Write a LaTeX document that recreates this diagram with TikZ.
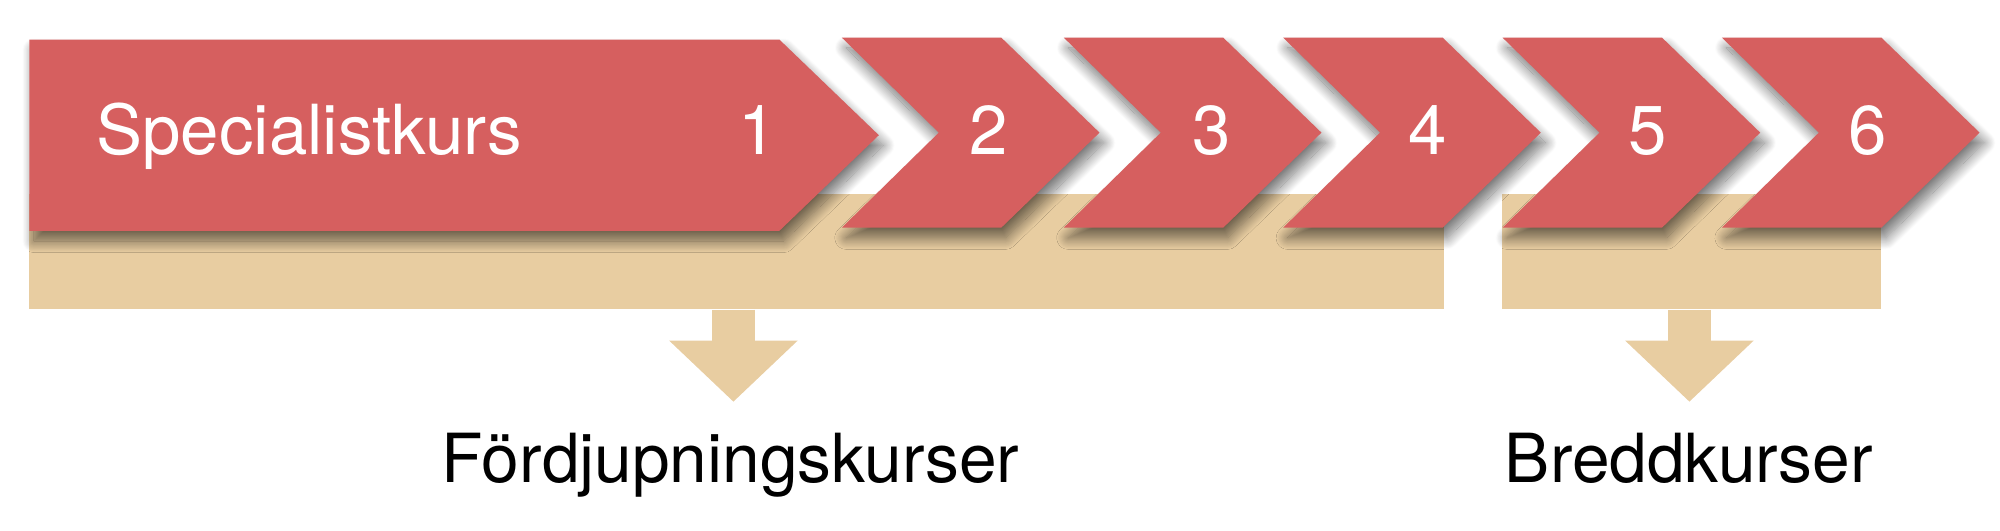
\documentclass[tikz,border=0pt]{standalone}
\usepackage{fontspec}
\setmainfont{TeX Gyre Heros}
\usepackage{tikz}
\usetikzlibrary{arrows.meta,positioning,fit,shadows.blur}
\definecolor{coursered}{RGB}{214,95,95}
\definecolor{coursetan}{RGB}{232,205,161}
\begin{document}
\begin{tikzpicture}[
    x=0.1mm, y=-0.1mm,
    chev/.style={
      fill=coursered,
      blur shadow={shadow xshift=0.35mm, shadow yshift=-0.8mm,
        shadow blur radius=0.9mm, shadow blur steps=20, shadow opacity=55},
    },
    band/.style={
      fill=coursetan,
      inner sep=0pt,
    },
    fold/.style={
      -{Triangle[width=9.8mm,length=4.8mm]},
      line width=3.4mm,
      draw=coursetan,
    },
    num/.style={
      anchor=base,
      text=white,
      inner sep=0pt,
      font=\fontsize{15.4}{18}\selectfont,
    },
    caption/.style={
      anchor=base,
      inner sep=0pt,
      font=\fontsize{15.1}{18}\selectfont,
    },
  ]
    \useasboundingbox (0,0) rectangle (1568,416);
    \node[band, fit={(23,152) (1132,242)}] (band1) {};
    \node[band, fit={(1177.5,152) (1474.5,242)}] (band2) {};
    \coordinate (tip1) at (575,315);
    \coordinate (tip2) at (1324.5,315);
    \draw[fold] (tip1 |- band1.south) -- (tip1);
    \draw[fold] (tip2 |- band2.south) -- (tip2);
    \fill[chev] (23,31) -- (611,31) -- (689,106) -- (611,181) -- (23,181) -- cycle;
    \fill[chev] (660,29.5) -- ++(125,0) -- ++(77,74.5) -- ++(-77,74.5) -- ++(-125,0) -- ++(76,-74.5) -- cycle;
    \fill[chev] (834,29.5) -- ++(125,0) -- ++(77,74.5) -- ++(-77,74.5) -- ++(-125,0) -- ++(76,-74.5) -- cycle;
    \fill[chev] (1006,29.5) -- ++(125,0) -- ++(77,74.5) -- ++(-77,74.5) -- ++(-125,0) -- ++(76,-74.5) -- cycle;
    \fill[chev] (1178,29.5) -- ++(125,0) -- ++(77,74.5) -- ++(-77,74.5) -- ++(-125,0) -- ++(76,-74.5) -- cycle;
    \fill[chev] (1350,29.5) -- ++(125,0) -- ++(77,74.5) -- ++(-77,74.5) -- ++(-125,0) -- ++(76,-74.5) -- cycle;
    \node[num, anchor=base west] (spec) at (75,121) {Specialistkurs};
    \node[num] (n1) at (594,121) {1};
    \node[num] (n2) at (775,121) {2};
    \node[num] (n3) at (950,121) {3};
    \node[num] (n4) at (1119,121) {4};
    \node[num] (n5) at (1292,121) {5};
    \node[num] (n6) at (1464,121) {6};
    \node[caption] (deep) at (572.5,378) {Fördjupningskurser};
    \node[caption] (broad) at (1324,378) {Breddkurser};
  \end{tikzpicture}
\end{document}
